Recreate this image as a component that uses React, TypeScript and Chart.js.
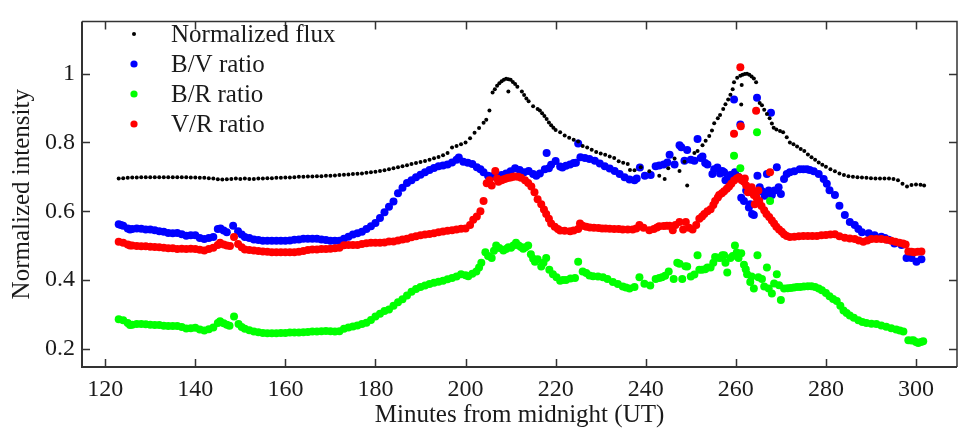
import React, { useEffect, useRef } from "react";
import { Chart, registerables } from "chart.js";

Chart.register(...registerables);

// ---------- data (minutes from midnight UT, normalized intensity) ----------
const fluxData: [number, number][] = [
  [123,0.695],[124,0.696],[125,0.697],[126,0.698],[127,0.698],[128,0.699],[129,0.699],[130,0.699],[131,0.699],[132,0.699],
  [133,0.699],[134,0.699],[135,0.699],[136,0.699],[137,0.699],[138,0.699],[139,0.698],[140,0.698],[141,0.697],[142,0.697],
  [143,0.696],[144,0.695],[145,0.693],[146,0.692],[147,0.693],[148,0.694],[149,0.695],[150,0.694],[151,0.695],[152,0.694],
  [153,0.694],[154,0.695],[155,0.695],[156,0.696],[157,0.696],[158,0.697],[159,0.697],[160,0.698],[161,0.698],[162,0.699],
  [163,0.700],[164,0.700],[165,0.701],[166,0.701],[167,0.702],[168,0.702],[169,0.703],[170,0.703],[171,0.704],[172,0.705],
  [173,0.706],[174,0.707],[175,0.708],[176,0.709],[177,0.710],[178,0.712],[179,0.713],[180,0.715],[181,0.717],[182,0.719],
  [183,0.722],[184,0.725],[185,0.728],[186,0.731],[187,0.734],[188,0.737],[189,0.740],[190,0.743],[191,0.746],[192,0.750],
  [193,0.754],[194,0.758],[195,0.763],[196,0.769],[197,0.785],[198,0.790],[199,0.795],[200,0.800],[201,0.812],[202,0.828],
  [203,0.842],[204,0.857],[204.6,0.866],[205.3,0.893],[206,0.945],[206.5,0.955],[207,0.965],[207.5,0.972],[208,0.978],[208.5,0.982],
  [209,0.985],[209.5,0.984],[210,0.982],[210.5,0.976],[211,0.970],[211.5,0.962],[209.5,0.948],[212.5,0.948],[213,0.938],[213.5,0.928],
  [214,0.920],[215,0.905],[216,0.897],[216.5,0.893],[217,0.885],[217.5,0.877],[218,0.868],[218.5,0.858],[219,0.850],[219.5,0.843],
  [220,0.836],[221,0.830],[222,0.820],[223,0.814],[224,0.808],[225,0.803],[226,0.790],[227,0.785],[228,0.779],[229,0.772],
  [230,0.768],[231,0.764],[232,0.759],[233,0.755],[234,0.745],[235,0.741],[236,0.737],[236.5,0.720],[237.5,0.719],[238.9,0.728],
  [240.8,0.716],[243,0.703],[244.2,0.694],[245,0.725],[246.4,0.753],[247.5,0.717],[248.6,0.744],[249.2,0.675],[250.8,0.769],[251.5,0.775],
  [252.6,0.792],[253.3,0.805],[254.1,0.819],[254.7,0.835],[255.2,0.856],[256,0.870],[256.5,0.880],[257.2,0.897],[257.7,0.911],[258.3,0.925],
  [258.8,0.939],[259.3,0.955],[259.6,0.975],[260.3,0.988],[261,0.994],[261.5,0.997],[262,0.999],[262.5,1.000],[263,0.997],[263.5,0.992],
  [264,0.986],[264.5,0.975],[261.3,0.967],[261.2,0.910],[265.3,0.915],[265.8,0.908],[266.3,0.895],[266.9,0.883],[267.5,0.870],[268,0.855],
  [268.4,0.843],[269,0.838],[269.8,0.833],[270.5,0.830],[271.3,0.815],[272,0.800],[272.8,0.795],[273.6,0.788],[274.4,0.781],[275.2,0.775],
  [276,0.765],[276.8,0.757],[277.6,0.750],[278.4,0.742],[279.2,0.735],[280,0.729],[281,0.722],[282,0.716],[283,0.710],[284,0.705],
  [285,0.702],[286,0.700],[287,0.699],[288,0.698],[289,0.697],[290,0.696],[291,0.695],[292,0.695],[293,0.695],[294,0.695],
  [295,0.694],[296,0.690],[297,0.680],[298,0.672],[299,0.676],[300,0.678],[301,0.677],[301.8,0.675],
];

const bvData: [number, number][] = [
  [123,0.562],[123.5,0.560],[124,0.558],[125,0.550],[125.5,0.547],[126,0.548],[127,0.550],[128,0.549],[129,0.547],[130,0.547],
  [131,0.545],[132,0.542],[133,0.540],[134,0.537],[135,0.536],[136,0.537],[137,0.533],[138,0.529],[139,0.530],[140,0.530],
  [141,0.522],[142,0.519],[143,0.522],[144,0.525],[145,0.548],[145.6,0.550],[146.3,0.544],[147,0.539],[148.4,0.558],[149.5,0.542],
  [150.3,0.532],[151,0.525],[152,0.522],[153,0.518],[154,0.516],[155,0.514],[156,0.514],[157,0.514],[158,0.514],[159,0.514],
  [160,0.514],[161,0.515],[162,0.517],[163,0.518],[164,0.520],[165,0.520],[166,0.520],[167,0.520],[168,0.518],[169,0.516],
  [170,0.514],[171,0.514],[172,0.514],[173,0.520],[174,0.526],[175,0.532],[176,0.536],[177,0.540],[178,0.548],[179,0.556],
  [180,0.566],[181,0.580],[182,0.597],[183,0.613],[184,0.628],[185,0.652],[186,0.668],[187,0.682],[188,0.690],[189,0.699],
  [190,0.706],[191,0.713],[192,0.720],[193,0.726],[194,0.731],[195,0.733],[196,0.736],[197,0.742],[198,0.750],[198.5,0.756],
  [199.5,0.744],[200.5,0.741],[201.5,0.737],[202.5,0.728],[203.3,0.722],[204,0.713],[205,0.703],[206,0.702],[207,0.700],[208,0.705],
  [209,0.710],[209.5,0.708],[210,0.716],[211,0.725],[212,0.720],[213,0.713],[214,0.717],[215,0.708],[215.7,0.703],[216.5,0.710],
  [217.6,0.722],[218,0.769],[218.5,0.725],[219,0.735],[220,0.746],[221,0.730],[221.5,0.727],[222.3,0.732],[223.2,0.736],[224,0.740],
  [224.5,0.741],[225,0.797],[225.5,0.757],[226.5,0.755],[227.5,0.752],[228.7,0.747],[229.8,0.739],[230.9,0.731],[232,0.724],[233.1,0.717],
  [234.2,0.708],[235.3,0.699],[236.4,0.692],[237.5,0.690],[238,0.695],[238.7,0.727],[239.8,0.703],[241.1,0.705],[242.2,0.731],[243,0.733],
  [244,0.736],[244.8,0.742],[245.3,0.764],[246.4,0.736],[247.5,0.792],[247.9,0.786],[248.6,0.747],[249.2,0.778],[250,0.750],[250.8,0.747],
  [251.5,0.810],[252.2,0.755],[252.6,0.759],[253.2,0.740],[253.7,0.736],[254.8,0.708],[255.2,0.722],[255.9,0.727],[256.5,0.710],[257,0.717],
  [257.4,0.713],[257.7,0.690],[258.1,0.694],[258.8,0.705],[259.6,0.925],[259.8,0.713],[260.5,0.700],[261,0.852],[261.2,0.639],[261.8,0.630],
  [262.3,0.660],[262.9,0.611],[263.2,0.620],[263.6,0.592],[264,0.589],[264.4,0.650],[264.7,0.930],[264.8,0.703],[265.3,0.670],[265.8,0.658],
  [266.4,0.645],[266.9,0.708],[267.3,0.660],[267.8,0.886],[268,0.647],[268.6,0.660],[269.1,0.728],[269.5,0.670],[270,0.650],[270.7,0.694],
  [271.3,0.708],[272,0.713],[273,0.716],[274.2,0.722],[275,0.722],[275.8,0.722],[276.4,0.720],[277.3,0.716],[278.4,0.708],[279.5,0.694],
  [280.2,0.680],[280.8,0.661],[282,0.647],[283,0.616],[284.2,0.589],[285.3,0.569],[286.4,0.560],[287.2,0.548],[288,0.539],[289.5,0.536],
  [290.8,0.530],[292.3,0.526],[293.1,0.522],[293.9,0.517],[295.2,0.506],[296.8,0.502],[297.9,0.464],[299,0.464],[300.1,0.453],[301.2,0.460],
];

const brData: [number, number][] = [
  [123,0.286],[124,0.283],[125,0.275],[125.5,0.269],[126,0.270],[127,0.272],[128,0.272],[129,0.271],[130,0.270],[131,0.269],
  [132,0.269],[133,0.267],[134,0.266],[135,0.266],[136,0.266],[137,0.263],[138,0.259],[139,0.260],[140,0.261],[141,0.256],
  [142,0.253],[143,0.257],[144,0.262],[145,0.275],[145.5,0.280],[146.3,0.274],[147,0.270],[147.6,0.267],[148.6,0.294],[149.6,0.272],
  [150.3,0.263],[151,0.258],[152,0.254],[153,0.250],[154,0.248],[155,0.246],[156,0.245],[157,0.245],[158,0.245],[159,0.246],
  [160,0.246],[161,0.247],[162,0.247],[163,0.247],[164,0.248],[165,0.249],[166,0.250],[167,0.250],[168,0.251],[169,0.252],
  [170,0.251],[171,0.250],[172,0.251],[173,0.258],[174,0.262],[175,0.265],[176,0.268],[177,0.272],[178,0.276],[179,0.284],
  [180,0.294],[181,0.302],[182,0.310],[183,0.314],[184,0.325],[185,0.335],[186,0.344],[187,0.355],[188,0.366],[189,0.374],
  [190,0.380],[191,0.384],[192,0.388],[193,0.392],[194,0.395],[195,0.398],[196,0.402],[197,0.406],[198,0.410],[199,0.417],
  [200,0.414],[200.6,0.411],[201.5,0.418],[202.4,0.425],[203,0.436],[203.5,0.450],[204.4,0.481],[205,0.470],[205.8,0.464],[206.3,0.485],
  [206.8,0.500],[207.5,0.493],[208.4,0.486],[209,0.490],[209.5,0.495],[210.1,0.494],[210.6,0.500],[211.2,0.508],[211.8,0.500],[212.3,0.496],
  [212.8,0.491],[213.3,0.495],[213.9,0.500],[214.5,0.475],[215,0.462],[215.4,0.453],[216,0.460],[216.8,0.439],[217.3,0.450],[217.9,0.464],
  [218.6,0.430],[219.4,0.417],[220.2,0.408],[221,0.398],[221.6,0.400],[222.3,0.400],[223.3,0.404],[224.3,0.406],[225,0.453],[226,0.425],
  [226.8,0.420],[227.5,0.413],[228.3,0.411],[229.4,0.410],[230.5,0.408],[231.5,0.403],[232.7,0.394],[233.8,0.388],[234.9,0.381],[235.6,0.378],
  [236.4,0.375],[237.5,0.380],[238.6,0.408],[239.7,0.389],[241,0.384],[242.2,0.403],[243,0.406],[243.6,0.408],[244.3,0.412],[245.1,0.425],
  [246.2,0.403],[247,0.450],[247.5,0.447],[248.1,0.403],[248.8,0.440],[249.2,0.439],[250,0.410],[250.8,0.416],[251.5,0.472],[251.9,0.430],
  [252.5,0.430],[253.2,0.431],[253.7,0.436],[254.4,0.436],[255,0.450],[255.4,0.467],[256,0.465],[256.5,0.464],[257,0.472],[257.4,0.472],
  [257.7,0.450],[258.1,0.422],[258.8,0.464],[259.3,0.470],[259.6,0.761],[259.8,0.500],[260.2,0.480],[260.6,0.464],[261,0.725],[261.2,0.478],
  [261.8,0.444],[262.2,0.431],[262.5,0.417],[263.2,0.394],[263.5,0.410],[264,0.375],[264.7,0.830],[264.8,0.472],[265,0.408],[265.8,0.403],
  [266.3,0.381],[266.9,0.436],[267.3,0.375],[267.6,0.630],[268,0.361],[268.5,0.390],[269.1,0.417],[269.6,0.385],[270,0.342],[270.7,0.375],
  [271.5,0.376],[272.2,0.377],[272.9,0.378],[273.6,0.380],[274.3,0.380],[275.1,0.381],[276,0.382],[276.8,0.382],[277.6,0.380],[278.4,0.375],
  [279.1,0.370],[280,0.362],[280.8,0.353],[281.6,0.345],[282.4,0.339],[283.2,0.325],[283.9,0.311],[284.6,0.304],[285.3,0.297],[286.2,0.290],
  [287.2,0.283],[288.1,0.278],[289,0.275],[290.1,0.273],[291.2,0.272],[292.3,0.268],[293.4,0.264],[294.5,0.260],[295.6,0.256],[296.4,0.253],
  [297.2,0.250],[298.3,0.225],[299,0.224],[299.4,0.225],[300,0.220],[300.5,0.217],[301.1,0.220],[301.6,0.222],
];

const vrData: [number, number][] = [
  [123,0.511],[124,0.508],[125,0.503],[125.5,0.500],[126,0.500],[127,0.499],[128,0.498],[129,0.498],[130,0.497],[131,0.496],
  [132,0.495],[133,0.494],[134,0.492],[135,0.492],[136,0.490],[137,0.491],[138,0.490],[139,0.491],[140,0.490],[141,0.488],
  [142,0.486],[143,0.490],[144,0.494],[145,0.502],[145.5,0.508],[146.3,0.503],[147,0.500],[147.7,0.499],[148.6,0.525],[149.5,0.505],
  [150.3,0.495],[151,0.489],[152,0.487],[153,0.486],[154,0.484],[155,0.483],[156,0.482],[157,0.481],[158,0.481],[159,0.481],
  [160,0.481],[161,0.481],[162,0.481],[163,0.482],[164,0.484],[165,0.487],[166,0.489],[167,0.489],[168,0.490],[169,0.490],
  [170,0.491],[171,0.492],[172,0.494],[173,0.501],[174,0.502],[175,0.502],[176,0.502],[177,0.505],[178,0.507],[179,0.508],
  [180,0.508],[181,0.508],[182,0.509],[183,0.512],[184,0.512],[185,0.515],[186,0.518],[187,0.520],[188,0.524],[189,0.527],
  [190,0.530],[191,0.532],[192,0.534],[193,0.536],[194,0.539],[195,0.541],[196,0.543],[197,0.545],[198,0.547],[199,0.549],
  [200,0.550],[201,0.560],[201.7,0.575],[202.5,0.585],[203.3,0.600],[204,0.630],[204.7,0.681],[205.3,0.690],[205.8,0.675],[206.6,0.717],
  [207,0.695],[207.3,0.686],[208,0.690],[208.5,0.693],[209,0.695],[209.5,0.697],[210,0.698],[210.5,0.700],[211,0.701],[211.7,0.700],
  [212.3,0.697],[213.2,0.690],[213.9,0.682],[214.6,0.672],[215.3,0.655],[216,0.635],[216.8,0.620],[217.4,0.605],[217.9,0.592],[218.5,0.578],
  [219,0.564],[219.8,0.555],[220.5,0.548],[221,0.544],[222,0.543],[223.2,0.542],[224,0.544],[225,0.548],[225.4,0.564],[226,0.558],
  [226.8,0.555],[227.6,0.553],[228.5,0.552],[229.5,0.551],[230.3,0.550],[231.1,0.550],[232,0.549],[233,0.548],[234,0.548],[234.9,0.547],
  [236,0.547],[237.1,0.547],[237.9,0.550],[238.6,0.560],[239.5,0.552],[240.8,0.545],[241.8,0.548],[242.5,0.553],[243,0.556],[244,0.557],
  [244.7,0.558],[245.3,0.558],[246,0.545],[246.6,0.560],[247.5,0.569],[248.3,0.547],[248.9,0.569],[249.6,0.552],[250.4,0.547],[251.2,0.560],
  [251.9,0.578],[252.5,0.585],[253,0.592],[253.7,0.600],[254.4,0.606],[255,0.618],[255.4,0.630],[256,0.640],[256.3,0.647],[256.9,0.652],
  [257.4,0.658],[258,0.665],[258.5,0.672],[259,0.680],[259.6,0.689],[259.6,0.825],[260.2,0.695],[260.7,0.699],[261,1.019],[261.1,0.847],
  [261.3,0.690],[261.8,0.686],[262,0.695],[262.3,0.675],[262.7,0.655],[262.9,0.667],[263.3,0.660],[263.5,0.670],[263.7,0.655],[264,0.647],
  [264.2,0.620],[264.5,0.892],[264.6,0.640],[265,0.660],[265.2,0.630],[265.7,0.615],[266.3,0.603],[266.8,0.592],[267.4,0.583],[267.6,0.713],
  [268,0.573],[268.5,0.564],[269,0.555],[269.6,0.547],[270.2,0.540],[270.7,0.533],[271.3,0.528],[272,0.525],[273,0.526],[274,0.527],
  [275,0.528],[276,0.528],[277,0.528],[278,0.528],[279,0.530],[280,0.531],[281,0.532],[282,0.533],[283,0.527],[284.2,0.523],
  [285.3,0.521],[286.4,0.519],[287.3,0.515],[288.3,0.511],[289.2,0.515],[290.1,0.519],[291.2,0.519],[292.3,0.519],[293.4,0.517],[294.5,0.514],
  [295.4,0.511],[296.3,0.508],[297.1,0.506],[297.7,0.503],[298.3,0.483],[299,0.482],[299.6,0.481],[300.4,0.482],[301.2,0.483],
];

const seriesLabels = ["Normalized flux", "B/V ratio", "B/R ratio", "V/R ratio"];
const seriesColors = ["#000000", "#0000ff", "#00ff00", "#ff0000"];
const xTicks = [120, 140, 160, 180, 200, 220, 240, 260, 280, 300];
const yTicks = [0.2, 0.4, 0.6, 0.8, 1];
const xLimits = [114.85, 309.1];
const yLimits = [0.147, 1.152];
const xTitle = "Minutes from midnight (UT)";
const yTitle = "Normalized intensity";

const FONT = '"Liberation Serif", "Times New Roman", serif';

const frameAndLegend = {
  id: "frameAndLegend",
  afterDraw(chart: any) {
    const { ctx, chartArea, scales } = chart;
    const { left, right, top, bottom } = chartArea;
    ctx.save();
    ctx.strokeStyle = "#333333";
    // inward ticks
    ctx.lineWidth = 1.5;
    const tl = 8;
    ctx.beginPath();
    for (const v of xTicks) {
      const x = Math.round(scales.x.getPixelForValue(v)) + 0.5;
      ctx.moveTo(x, bottom); ctx.lineTo(x, bottom - tl);
      ctx.moveTo(x, top); ctx.lineTo(x, top + tl);
    }
    for (const v of yTicks) {
      const y = Math.round(scales.y.getPixelForValue(v)) + 0.5;
      ctx.moveTo(left, y); ctx.lineTo(left + tl, y);
      ctx.moveTo(right, y); ctx.lineTo(right - tl, y);
    }
    ctx.stroke();
    // frame
    ctx.lineWidth = 2;
    ctx.beginPath();
    ctx.moveTo(left, top); ctx.lineTo(left, bottom); ctx.lineTo(right, bottom);
    ctx.stroke();
    ctx.lineWidth = 1.5;
    ctx.beginPath();
    ctx.moveTo(left, top); ctx.lineTo(right, top); ctx.lineTo(right, bottom);
    ctx.stroke();

    // legend
    const rows = [34, 64, 94, 124];
    const markerX = 134;
    const textX = 171;
    ctx.font = `25px ${FONT}`;
    ctx.textBaseline = "middle";
    ctx.textAlign = "left";
    chart.data.datasets.forEach((ds: any, i: number) => {
      const y = rows[i];
      ctx.fillStyle = ds.backgroundColor;
      ctx.beginPath();
      ctx.arc(markerX, y, i === 0 ? 2 : 3.6, 0, Math.PI * 2);
      ctx.fill();
      ctx.fillStyle = "#1a1a1a";
      ctx.fillText(ds.label, textX, y + 1);
    });
    ctx.restore();
  },
};

const whiteBg = {
  id: "whiteBg",
  beforeDraw(chart: any) {
    const { ctx, width, height } = chart;
    ctx.save();
    ctx.fillStyle = "#ffffff";
    ctx.fillRect(0, 0, width, height);
    ctx.restore();
  },
};

export default function App() {
  const ref = useRef<HTMLCanvasElement | null>(null);

  useEffect(() => {
    if (!ref.current) return;
    const all = [fluxData, bvData, brData, vrData];
    const orders = [0, 3, 2, 1];
    const chart = new Chart(ref.current, {
      type: "scatter",
      data: {
        datasets: all.map((d, i) => ({
          label: seriesLabels[i],
          data: d.map(([x, y]) => ({ x, y })),
          backgroundColor: seriesColors[i],
          borderColor: seriesColors[i],
          pointBackgroundColor: seriesColors[i],
          pointBorderWidth: 0,
          pointRadius: i === 0 ? 2 : 4,
          order: orders[i],
        })),
      },
      options: {
        responsive: false,
        animation: false,
        events: [],
        layout: { padding: { top: 5, right: 0, left: 0, bottom: 0 } },
        plugins: {
          legend: { display: false },
          tooltip: { enabled: false },
        },
        scales: {
          x: {
            type: "linear",
            min: xLimits[0],
            max: xLimits[1],
            grid: { display: false, drawTicks: false },
            border: { display: false },
            afterBuildTicks: (s: any) => { s.ticks = xTicks.map((v) => ({ value: v })); },
            afterFit: (s: any) => { s.height = 63; },
            ticks: {
              font: { family: FONT, size: 24 },
              color: "#1a1a1a",
              padding: 8,
              maxRotation: 0,
              autoSkip: false,
              callback: (v: any) => String(v),
            },
            title: {
              display: true,
              text: xTitle,
              font: { family: FONT, size: 25 },
              color: "#1a1a1a",
              padding: { top: 0, bottom: 0 },
            },
          },
          y: {
            type: "linear",
            min: yLimits[0],
            max: yLimits[1],
            grid: { display: false, drawTicks: false },
            border: { display: false },
            afterBuildTicks: (s: any) => { s.ticks = yTicks.map((v) => ({ value: v })); },
            afterFit: (s: any) => { s.width = 82; },
            ticks: {
              font: { family: FONT, size: 24 },
              color: "#1a1a1a",
              padding: 7,
              autoSkip: false,
              callback: (v: any) => String(v),
            },
            title: {
              display: true,
              text: yTitle,
              font: { family: FONT, size: 25 },
              color: "#1a1a1a",
              padding: { top: 7, bottom: 0 },
            },
          },
        },
      },
      plugins: [whiteBg, frameAndLegend],
    });
    return () => chart.destroy();
  }, []);

  return (
    <div style={{ position: "absolute", left: 0, top: 0, width: 961, height: 430, background: "#fff" }}>
      <canvas ref={ref} width={961} height={430} style={{ display: "block", width: 961, height: 430 }} />
    </div>
  );
}
